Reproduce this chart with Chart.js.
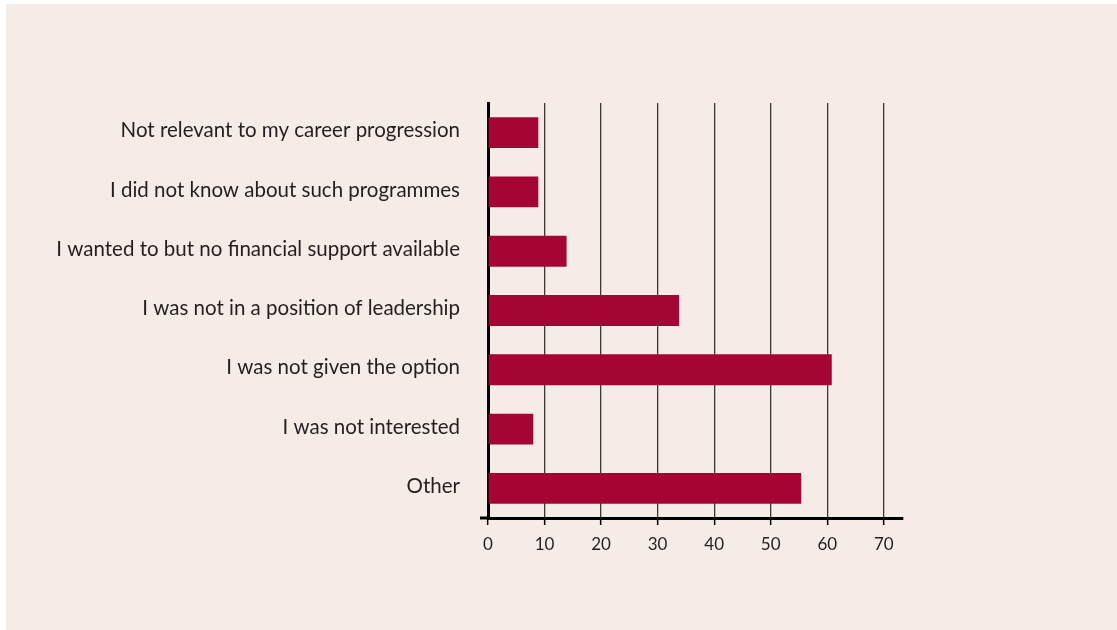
<!DOCTYPE html>
<html>
<head>
<meta charset="utf-8">
<script src="https://cdn.jsdelivr.net/npm/chart.js@4.4.1/dist/chart.umd.min.js"></script>
<style>
  html, body { margin: 0; padding: 0; background: #ffffff; width: 1117px; height: 630px; overflow: hidden; }
  #panel { position: absolute; left: 6px; top: 4px; right: 0; bottom: 0; background: #f5ece8; }
  #wrap { position: absolute; left: 0; top: 0; width: 1117px; height: 630px; }
</style>
</head>
<body>
<div id="panel"></div>
<div id="wrap"><canvas id="c" width="1117" height="630"></canvas></div>
<script>
const categories = [
  "Not relevant to my career progression",
  "I did not know about such programmes",
  "I wanted to but no financial support available",
  "I was not in a position of leadership",
  "I was not given the option",
  "I was not interested",
  "Other"
];
const values = [8.9, 8.9, 13.9, 33.8, 60.8, 8.0, 55.4];
const tickValues = [0, 10, 20, 30, 40, 50, 60, 70];
const axisMax = 73.4;

const axisExtension = {
  id: 'axisExtension',
  afterDraw(chart) {
    const ctx = chart.ctx;
    const a = chart.chartArea;
    ctx.save();
    ctx.strokeStyle = '#000000';
    ctx.lineWidth = 3;
    ctx.beginPath();
    ctx.moveTo(a.left - 8, a.bottom);
    ctx.lineTo(a.left + 1, a.bottom);
    ctx.stroke();
    ctx.restore();
  }
};

new Chart(document.getElementById('c'), {
  type: 'bar',
  data: {
    labels: categories,
    datasets: [{
      data: values,
      backgroundColor: '#a50533',
      borderWidth: 0,
      barPercentage: 0.52,
      categoryPercentage: 1.0
    }]
  },
  options: {
    indexAxis: 'y',
    responsive: false,
    animation: false,
    layout: { padding: { left: 8, top: 103, right: 214, bottom: 0 } },
    plugins: { legend: { display: false }, tooltip: { enabled: false } },
    scales: {
      x: {
        type: 'linear',
        min: 0,
        max: axisMax,
        afterBuildTicks(scale) { scale.ticks = tickValues.map(v => ({ value: v })); },
        afterFit(scale) { scale.height = 112; },
        border: { display: true, color: '#000000', width: 3 },
        grid: {
          color: '#3c3838',
          lineWidth: 1.3,
          drawTicks: true,
          tickLength: 7,
          tickColor: '#000000',
          tickWidth: 1.5
        },
        ticks: {
          color: '#231f20',
          font: { family: 'Lato', size: 17 },
          padding: 9,
          maxRotation: 0
        }
      },
      y: {
        afterFit(scale) { scale.width = 480; },
        border: { display: true, color: '#000000', width: 3 },
        grid: { display: false, drawTicks: false },
        ticks: {
          color: '#231f20',
          font: { family: 'Lato', size: 20.5 },
          padding: 28,
          labelOffset: -2
        }
      }
    }
  },
  plugins: [axisExtension]
});
</script>
</body>
</html>
